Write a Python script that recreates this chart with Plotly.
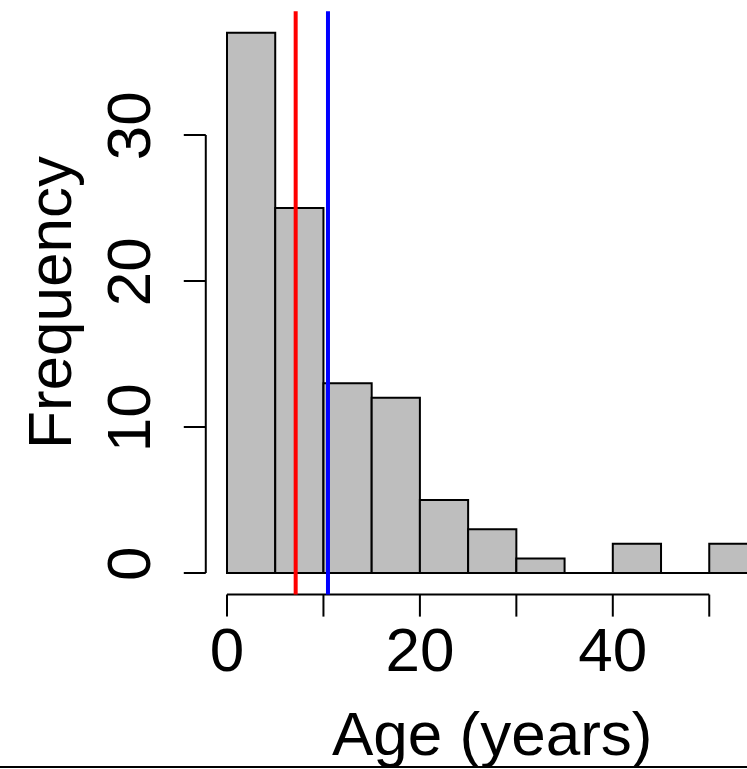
import plotly.graph_objects as go

# ---- data ----
breaks = [0, 5, 10, 15, 20, 25, 30, 35, 40, 45, 50, 55]
counts = [37, 25, 13, 12, 5, 3, 1, 0, 2, 0, 2]
x_ticks = [0, 10, 20, 30, 40, 50]
x_labels = [0, 20, 40]
y_ticks = [0, 10, 20, 30]
median_age = 7.12
mean_age = 10.47

# ---- layout constants (pixel scale of the reference) ----
W, H = 747, 769
X_PX0, X_K = 227.0, 9.645      # px of x=0, px per unit
Y_PX0, Y_K = 573.0, 14.6       # px of y=0, px per unit
L, B = 175, 144                # margins
TICK_PX = 22
FONT = "Liberation Sans, Arial, sans-serif"
FS = 62

x_range = [(L - X_PX0) / X_K, (W - X_PX0) / X_K]
y_range = [(Y_PX0 - (H - B)) / Y_K, Y_PX0 / Y_K]

# R-style plot region (4% extension)
x_lo = breaks[0] - 0.04 * (breaks[-1] - breaks[0])
x_mid = (breaks[0] + breaks[-1]) / 2
y_lo = -0.04 * max(counts)
y_hi = max(counts) + 0.04 * max(counts)

centers = [(a + b) / 2 for a, b in zip(breaks[:-1], breaks[1:])]
widths = [b - a for a, b in zip(breaks[:-1], breaks[1:])]

fig = go.Figure()

fig.add_trace(go.Bar(
    x=centers, y=counts, width=widths,
    marker=dict(color="#BEBEBE", line=dict(color="black", width=2)),
    hoverinfo="skip",
))

# baseline (zero-height bins drawn as lines in R)
fig.add_trace(go.Scatter(
    x=[breaks[0], breaks[-1]], y=[0, 0], mode="lines",
    line=dict(color="black", width=2), hoverinfo="skip",
))

# x axis line + ticks
xa_x, xa_y = [x_ticks[0], x_ticks[-1], None], [y_lo, y_lo, None]
for t in x_ticks:
    xa_x += [t, t, None]
    xa_y += [y_lo, y_lo - TICK_PX / Y_K, None]
fig.add_trace(go.Scatter(x=xa_x, y=xa_y, mode="lines",
                         line=dict(color="black", width=2), hoverinfo="skip"))

# y axis line + ticks
ya_x, ya_y = [x_lo, x_lo, None], [y_ticks[0], y_ticks[-1], None]
for t in y_ticks:
    ya_x += [x_lo, x_lo - TICK_PX / X_K, None]
    ya_y += [t, t, None]
fig.add_trace(go.Scatter(x=ya_x, y=ya_y, mode="lines",
                         line=dict(color="black", width=2), hoverinfo="skip"))

# median / mean lines
fig.add_trace(go.Scatter(x=[median_age, median_age], y=[y_lo, y_hi], mode="lines",
                         line=dict(color="#FF0000", width=4), hoverinfo="skip"))
fig.add_trace(go.Scatter(x=[mean_age, mean_age], y=[y_lo, y_hi], mode="lines",
                         line=dict(color="#0000FF", width=4), hoverinfo="skip"))

plot_w = W - L
plot_h = H - B

fig.update_layout(
    width=W, height=H,
    margin=dict(l=L, r=0, t=0, b=B, pad=0),
    paper_bgcolor="white", plot_bgcolor="white",
    showlegend=False, bargap=0,
    font=dict(family=FONT, size=FS, color="black"),
    xaxis=dict(range=x_range, tickvals=x_labels, ticktext=[str(v) for v in x_labels],
               ticks="", showline=False, showgrid=False, zeroline=False,
               tickfont=dict(size=FS), ticklabelstandoff=-17, fixedrange=True),
    yaxis=dict(range=y_range, tickvals=y_ticks, ticktext=[str(v) for v in y_ticks],
               ticks="", showline=False, showgrid=False, zeroline=False,
               tickangle=-90, tickfont=dict(size=FS), ticklabelstandoff=12,
               fixedrange=True),
    annotations=[
        dict(text="Age (years)", xref="x", yref="paper", x=x_mid,
             y=(plot_h - 733) / plot_h, xanchor="center", yanchor="middle",
             showarrow=False, font=dict(size=FS)),
        dict(text="Frequency", xref="paper", yref="y", x=(50 - L) / plot_w,
             y=(y_lo + y_hi) / 2, xanchor="center", yanchor="middle",
             textangle=-90, showarrow=False, font=dict(size=FS)),
    ],
    shapes=[
        dict(type="line", xref="paper", yref="paper", x0=-L / plot_w, x1=1,
             y0=(plot_h - 767) / plot_h, y1=(plot_h - 767) / plot_h,
             line=dict(color="black", width=2)),
    ],
)

fig.write_html("out.html", config={"displayModeBar": False, "staticPlot": True})
